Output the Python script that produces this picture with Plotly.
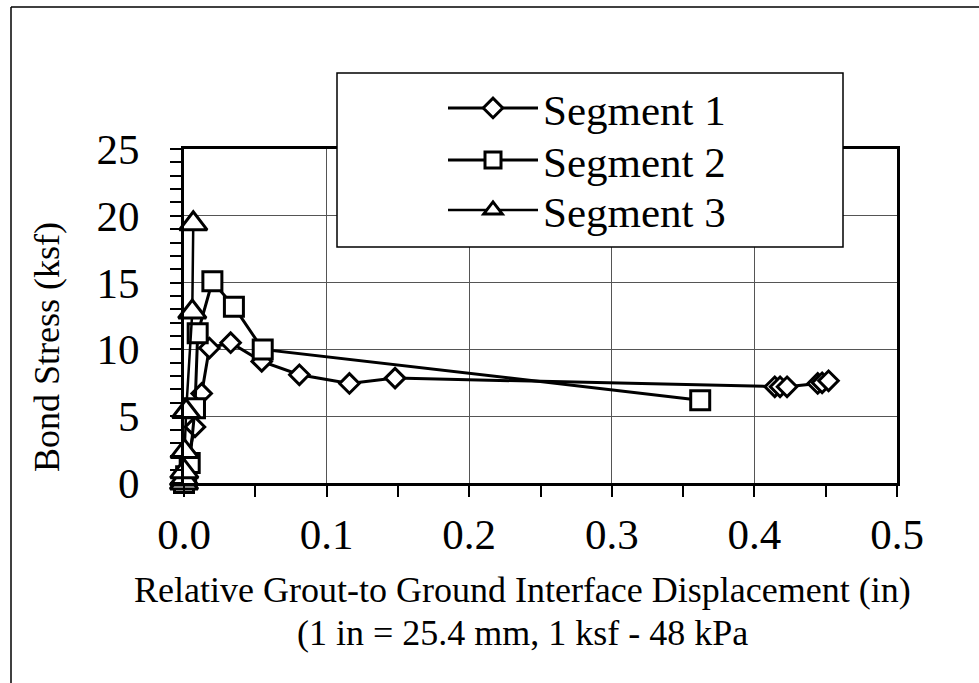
import plotly.graph_objects as go

# ---- data ----
seg1_x = [0.0, 0.001, 0.003, 0.0077, 0.0124, 0.0178, 0.0327, 0.0545, 0.0809, 0.116, 0.148,
          0.4143, 0.418, 0.4229, 0.4444, 0.4475, 0.452]
seg1_y = [0.0, 0.5, 2.0, 4.2, 6.7, 10.1, 10.5, 9.1, 8.1, 7.45, 7.85,
          7.2, 7.2, 7.2, 7.45, 7.5, 7.65]

seg2_x = [0.0, 0.0015, 0.004, 0.0077, 0.0096, 0.0199, 0.035, 0.0552, 0.362]
seg2_y = [0.0, 0.5, 1.5, 5.6, 11.2, 15.1, 13.2, 10.0, 6.2]

seg3_x = [0.0, 0.0, 0.0002, 0.0004, 0.0015, 0.0058, 0.0065]
seg3_y = [0.0, 0.3, 0.85, 2.35, 5.35, 12.8, 19.4]

names = ["Segment 1", "Segment 2", "Segment 3"]
x_ticks = [0.0, 0.1, 0.2, 0.3, 0.4, 0.5]
x_tick_text = ["0.0", "0.1", "0.2", "0.3", "0.4", "0.5"]
y_ticks = [0, 5, 10, 15, 20, 25]

x_title_1 = "Relative Grout-to Ground Interface Displacement (in)"
x_title_2 = "(1 in = 25.4 mm, 1 ksf - 48 kPa"
y_title = "Bond Stress (ksf)"

FONT = "Liberation Serif"
W, H = 979, 683
L, R, T, B = 184, 82, 149, 200
PW, PH = W - L - R, H - T - B


def px_x(p):
    return (p - L) / PW


def px_y(p):
    return (H - B - p) / PH


fig = go.Figure()
fig.add_trace(go.Scatter(
    x=seg1_x, y=seg1_y, name=names[0], mode="lines+markers", legend="legend",
    line=dict(color="black", width=3),
    marker=dict(symbol="diamond", size=15, color="white", line=dict(color="black", width=3)),
    cliponaxis=False))
fig.add_trace(go.Scatter(
    x=seg2_x, y=seg2_y, name=names[1], mode="lines+markers", legend="legend2",
    line=dict(color="black", width=3),
    marker=dict(symbol="square", size=19, color="white", line=dict(color="black", width=3)),
    cliponaxis=False))
fig.add_trace(go.Scatter(
    x=seg3_x, y=seg3_y, name=names[2], mode="lines+markers", legend="legend3",
    line=dict(color="black", width=2.5),
    marker=dict(symbol="triangle-up", size=24, color="white", line=dict(color="black", width=3)),
    cliponaxis=False))

axis_common = dict(
    showline=True, linecolor="black", linewidth=3, mirror=True,
    ticks="outside", ticklen=11, tickwidth=1.5, tickcolor="black",
    showgrid=True, gridcolor="#555555", gridwidth=1.2,
    zeroline=False,
    tickfont=dict(family=FONT, size=43, color="black"),
)

fig.update_xaxes(range=[0, 0.5], tickvals=x_ticks, ticktext=x_tick_text,
                 minor=dict(dtick=0.05, ticks="outside", ticklen=11, tickcolor="black", tickwidth=1.5,
                            showgrid=False),
                 ticklabelstandoff=0, **axis_common)
fig.update_yaxes(range=[0, 25], tickvals=y_ticks,
                 minor=dict(dtick=1, ticks="outside", ticklen=11, tickcolor="black", tickwidth=1.5,
                            showgrid=False),
                 ticklabelstandoff=22, **axis_common)

shapes = [
    # legend box
    dict(type="rect", xref="paper", yref="paper",
         x0=px_x(337), x1=px_x(843), y0=px_y(247), y1=px_y(73),
         fillcolor="white", line=dict(color="black", width=1.5), layer="above"),
    # outer chart border (top and left visible)
    dict(type="line", xref="paper", yref="paper",
         x0=px_x(11), x1=px_x(W + 5), y0=px_y(7), y1=px_y(7),
         line=dict(color="black", width=1.5)),
    dict(type="line", xref="paper", yref="paper",
         x0=px_x(11), x1=px_x(11), y0=px_y(7), y1=px_y(H + 5),
         line=dict(color="black", width=1.5)),
]

annotations = [
    dict(text=x_title_1, xref="paper", yref="paper", x=px_x(522), y=px_y(590),
         showarrow=False, xanchor="center", yanchor="middle",
         font=dict(family=FONT, size=36, color="black")),
    dict(text=x_title_2, xref="paper", yref="paper", x=px_x(522), y=px_y(633),
         showarrow=False, xanchor="center", yanchor="middle",
         font=dict(family=FONT, size=36, color="black")),
    dict(text=y_title, xref="paper", yref="paper", x=px_x(47), y=px_y(347),
         showarrow=False, xanchor="center", yanchor="middle", textangle=-90,
         font=dict(family=FONT, size=36, color="black")),
]

legend_common = dict(xanchor="left", yanchor="middle",
                     bgcolor="rgba(0,0,0,0)", borderwidth=0,
                     font=dict(family=FONT, size=43, color="black"),
                     itemwidth=90)

fig.update_layout(
    width=W, height=H,
    margin=dict(l=L, r=R, t=T, b=B, pad=0),
    paper_bgcolor="white", plot_bgcolor="white",
    showlegend=True,
    legend=dict(x=px_x(443), y=px_y(108), **legend_common),
    legend2=dict(x=px_x(443), y=px_y(160), **legend_common),
    legend3=dict(x=px_x(443), y=px_y(210), **legend_common),
    shapes=shapes,
    annotations=annotations,
)

fig.write_html("out.html")
